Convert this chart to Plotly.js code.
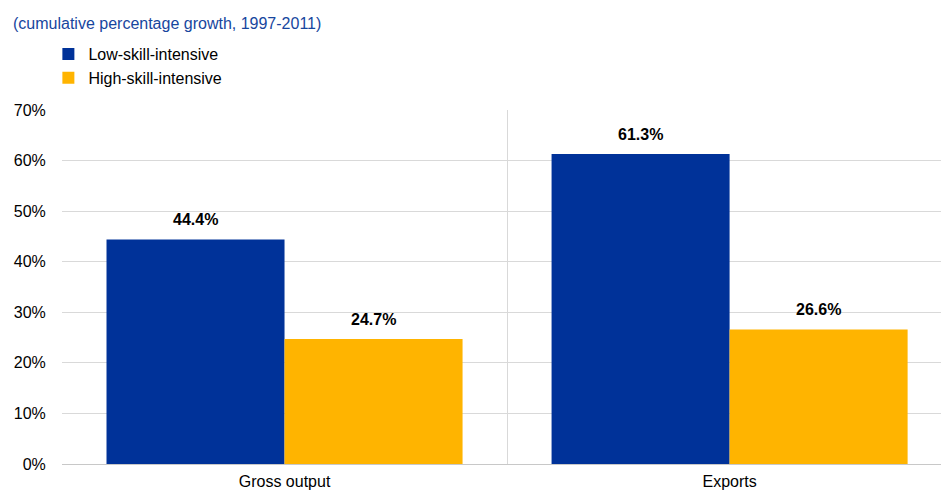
<!DOCTYPE html>
<html>
<head>
<meta charset="utf-8">
<script src="https://cdn.plot.ly/plotly-3.0.1.min.js"></script>
<style>body{margin:0;padding:0;background:#fff}#chart{width:941px;height:492px}</style>
</head>
<body>
<div id="chart"></div>
<script>
const categories = ["Gross output", "Exports"];
const lowSkill = [44.4, 61.3];
const highSkill = [24.7, 26.6];
const seriesNames = ["Low-skill-intensive", "High-skill-intensive"];
const subtitle = "(cumulative percentage growth, 1997-2011)";

const font = "Liberation Sans, Arial, sans-serif";
const blue = "#003299";
const yellow = "#FFB400";

const traces = [
  {type: "bar", name: seriesNames[0], x: categories, y: lowSkill, marker: {color: blue}, hoverinfo: "none"},
  {type: "bar", name: seriesNames[1], x: categories, y: highSkill, marker: {color: yellow}, hoverinfo: "none"}
];

const annotations = [];
[lowSkill, highSkill].forEach((vals, si) => {
  vals.forEach((v, i) => {
    annotations.push({
      x: categories[i], y: v, xref: "x", yref: "y",
      text: "<b>" + v.toFixed(1) + "%</b>",
      showarrow: false, yanchor: "bottom", yshift: 9,
      xshift: si === 0 ? -89 : 89,
      font: {family: font, size: 16, color: "#000"}
    });
  });
});
annotations.push({
  xref: "paper", yref: "paper", x: -62/879, y: 1, yshift: 87,
  xanchor: "left", yanchor: "middle", xshift: 11,
  text: subtitle, showarrow: false,
  font: {family: font, size: 16, color: "#17469e"}
});

const layout = {
  width: 941, height: 492,
  margin: {l: 62, r: 0, t: 110, b: 28},
  paper_bgcolor: "#fff", plot_bgcolor: "#fff",
  font: {family: font, size: 16, color: "#000"},
  barmode: "group", bargap: 0.2, bargroupgap: 0,
  showlegend: true,
  legend: {x: -0.0155, y: 1 + 15/354, yref: "paper", xanchor: "left", yanchor: "bottom",
           orientation: "v", font: {family: font, size: 16, color: "#000"},
           itemwidth: 30, tracegroupgap: 0, traceorder: "normal", bgcolor: "rgba(0,0,0,0)"},
  xaxis: {type: "category", range: [-0.5, 1.475], tickson: "boundaries", showgrid: true,
          gridcolor: "#d9d9d9", gridwidth: 1, ticks: "", showline: false, zeroline: false,
          ticklabelstandoff: 6,
          tickfont: {family: font, size: 16, color: "#000"}, fixedrange: true},
  yaxis: {range: [0, 70], dtick: 10, ticksuffix: "%", showgrid: true, gridcolor: "#d9d9d9",
          gridwidth: 1, zeroline: true, zerolinecolor: "#c8c8c8", zerolinewidth: 1,
          ticks: "outside", ticklen: 12, tickcolor: "rgba(0,0,0,0)",
          tickfont: {family: font, size: 16, color: "#000"}, fixedrange: true},
  annotations: annotations
};

Plotly.newPlot("chart", traces, layout, {displayModeBar: false, staticPlot: true});
</script>
</body>
</html>
